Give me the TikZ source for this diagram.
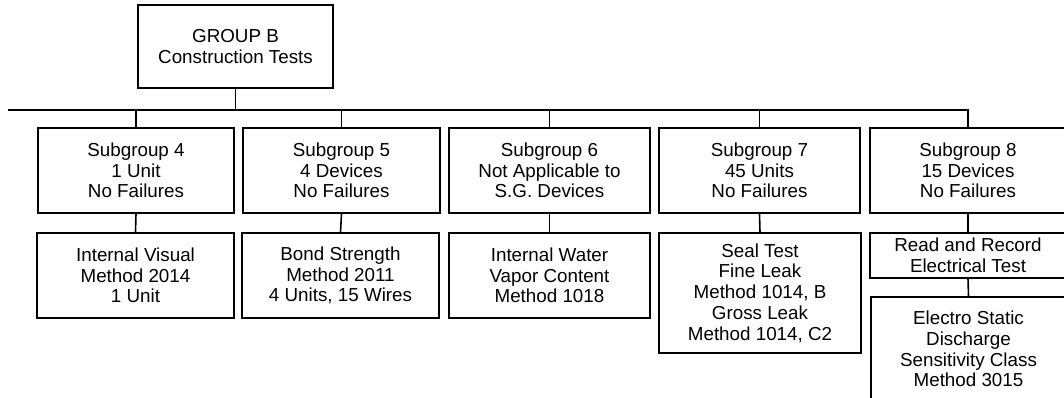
\documentclass[tikz,border=0pt]{standalone}
\usepackage{fontspec}
\setmainfont{Liberation Sans}
\begin{document}
\begin{tikzpicture}[x=1pt,y=-1pt,
  box/.style={draw=black, line width=1.6pt, align=center, inner sep=0pt,
    font=\fontsize{18.8pt}{20.7pt}\selectfont},
  link/.style={draw=black, line width=1.6pt}]
\useasboundingbox (0,0) rectangle (1064,397);
\fill[white] (0,0) rectangle (1064,397);
% top
\node[box, minimum width=195pt, minimum height=83pt] (top) at (235.5,46.5) {GROUP B\\Construction Tests};
% subgroups
\node[box, minimum width=196pt, minimum height=85pt] (s4) at (136,170.5) {Subgroup 4\\1 Unit\\No Failures};
\node[box, minimum width=197pt, minimum height=85pt] (s5) at (341.5,170.5) {Subgroup 5\\4 Devices\\No Failures};
\node[box, minimum width=201pt, minimum height=85pt] (s6) at (549.5,170.5) {Subgroup 6\\Not Applicable to\\S.G. Devices};
\node[box, minimum width=201pt, minimum height=85pt] (s7) at (759.5,170.5) {Subgroup 7\\45 Units\\No Failures};
\node[box, minimum width=196pt, minimum height=85pt] (s8) at (968,170.5) {Subgroup 8\\15 Devices\\No Failures};
% tests
\node[box, minimum width=197pt, minimum height=85pt] (t4) at (135.5,275.5) {Internal Visual\\Method 2014\\1 Unit};
\node[box, minimum width=197pt, minimum height=85pt] (t5) at (340.5,275.5) {Bond Strength\\Method 2011\\4 Units, 15 Wires};
\node[box, minimum width=201pt, minimum height=85pt] (t6) at (549.5,275.5) {Internal Water\\Vapor Content\\Method 1018};
\node[box, minimum width=202pt, minimum height=120pt] (t7) at (760,293) {Seal Test\\Fine Leak\\Method 1014, B\\Gross Leak\\Method 1014, C2};
\node[box, minimum width=196pt, minimum height=45pt] (t8a) at (968,255.5) {Read and Record\\Electrical Test};
\node[box, minimum width=195pt, minimum height=104pt] (t8b) at (968.5,349) {Electro Static\\Discharge\\Sensitivity Class\\Method 3015};
% connectors
\coordinate (busL) at (8,110);
\coordinate (busR) at (s8.north |- busL);
\draw[link] (top.south) -- (top.south |- busL);
\draw[link] (busL) -- (busR) -- (s8.north);
\foreach \n in {s4,s5,s6,s7}{
  \draw[link] (\n.north |- busL) -- (\n.north);
}
\draw[link] (s4.south) -- (t4.north);
\draw[link] (s5.south) -- (t5.north);
\draw[link] (s6.south) -- (t6.north);
\draw[link] (s7.south) -- (t7.north);
\draw[link] (s8.south) -- (t8a.north);
\draw[link] (t8a.south) -- (t8b.north);
\end{tikzpicture}
\end{document}
